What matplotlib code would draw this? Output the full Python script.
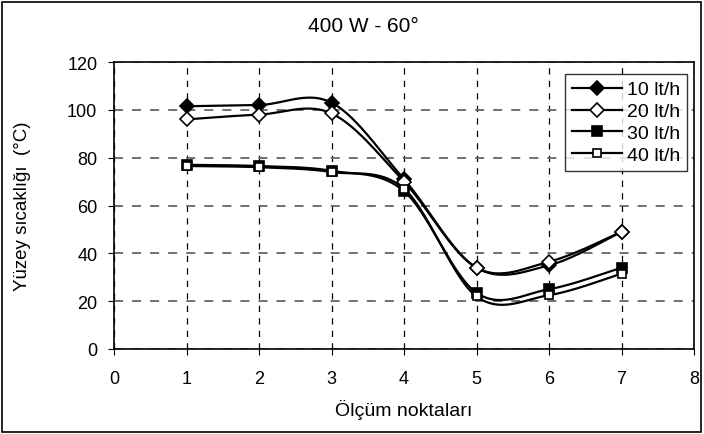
import numpy as np
import matplotlib.pyplot as plt
from matplotlib.patches import Rectangle

plt.rcParams['font.family'] = ['Liberation Sans', 'DejaVu Sans']

# measurement points and surface temperatures per flow rate
points = [1, 2, 3, 4, 5, 6, 7]
t_10 = [101.5, 102, 103, 71, 34, 35, 49]
t_20 = [96, 98, 98.5, 70, 34, 36.5, 49]
t_30 = [77, 76.5, 74.5, 66, 23.5, 25, 34]
t_40 = [76.5, 76, 74, 67, 22, 22.5, 31.5]
labels = ['10 lt/h', '20 lt/h', '30 lt/h', '40 lt/h']
xticks = [0, 1, 2, 3, 4, 5, 6, 7, 8]
yticks = [0, 20, 40, 60, 80, 100, 120]


def smooth(xs, ys, n=30):
    # excel style smoothed line: bezier segments with catmull-rom control points
    p = np.column_stack([xs, ys]).astype(float)
    p_ext = np.vstack([p[0], p, p[-1]])
    t = np.linspace(0, 1, n)[:, None]
    out = []
    for i in range(len(p) - 1):
        p0, p3 = p_ext[i + 1], p_ext[i + 2]
        c1 = p0 + (p_ext[i + 2] - p_ext[i]) / 6
        c2 = p3 - (p_ext[i + 3] - p_ext[i + 1]) / 6
        seg = ((1 - t) ** 3 * p0 + 3 * (1 - t) ** 2 * t * c1
               + 3 * (1 - t) * t ** 2 * c2 + t ** 3 * p3)
        out.append(seg if i == 0 else seg[1:])
    out = np.vstack(out)
    return out[:, 0], out[:, 1]


fig = plt.figure(figsize=(7.04, 4.35), dpi=100)
ax = fig.add_axes([114 / 704, 85 / 435, 580 / 704, 287 / 435])

styles = [
    dict(marker='D', mfc='black', ms=7.5),
    dict(marker='D', mfc='white', ms=7.5),
    dict(marker='s', mfc='black', ms=7.5),
    dict(marker='s', mfc='white', ms=5.5),
]
for ys, lab, st in zip([t_10, t_20, t_30, t_40], labels, styles):
    sx, sy = smooth(points, ys)
    ax.plot(sx, sy, color='black', lw=1.6, zorder=3)
    ax.plot(points, ys, ls='none', color='black', mec='black', mew=1.2,
            zorder=4, **st)
    # proxy for legend
    ax.plot([], [], color='black', lw=1.6, mec='black', mew=1.2, label=lab, **st)

ax.set_xlim(0, 8)
ax.set_ylim(0, 120)
ax.set_xticks(xticks)
ax.set_yticks(yticks)
ax.tick_params(labelsize=13, direction='out', length=4, color='black')
ax.tick_params(axis='x', pad=11)
ax.tick_params(axis='y', pad=8)
ax.xaxis.grid(True, color='black', ls=(0, (5, 5)), lw=0.9)
ax.yaxis.grid(True, color='#666666', ls=(0, (5, 5)), lw=1.3)
ax.set_axisbelow(True)
for sp in ax.spines.values():
    sp.set_linewidth(1.2)

leg = ax.legend(loc='upper right', bbox_to_anchor=(0.9885, 0.958), fontsize=14,
                frameon=True, fancybox=False, edgecolor='black',
                handlelength=2.6, handletextpad=0.25, labelspacing=0.22,
                borderpad=0.35, borderaxespad=0)
leg.get_frame().set_linewidth(1.0)

fig.text(363 / 704, 1 - 27 / 435, '400 W - 60°', ha='center', va='center', fontsize=15)
fig.text(404 / 704, 1 - 410 / 435, 'Ölçüm noktaları', ha='center', va='center', fontsize=14)
fig.text(23 / 704, 1 - 206 / 435, 'Yüzey sıcaklığı  (°C)', ha='center', va='center',
         rotation=90, fontsize=13.5)

fig.patches.append(Rectangle((2 / 704, 2 / 435), 699 / 704, 430 / 435,
                             transform=fig.transFigure, fill=False,
                             edgecolor='black', lw=1.2))

fig.savefig('out.png', dpi=100)
